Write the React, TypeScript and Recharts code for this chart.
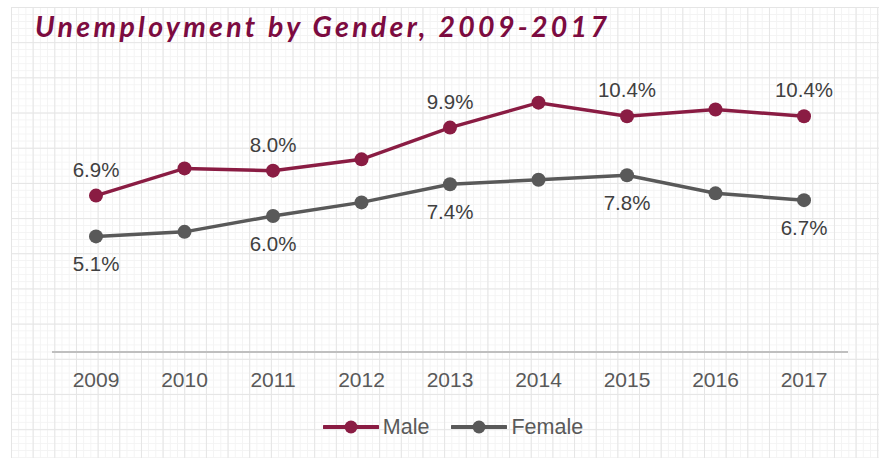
import React from 'react';
import { LineChart, Line, XAxis, YAxis, Legend } from 'recharts';

const years = ['2009', '2010', '2011', '2012', '2013', '2014', '2015', '2016', '2017'];
const maleRates = [6.9, 8.1, 8.0, 8.5, 9.9, 11.0, 10.4, 10.7, 10.4];
const femaleRates = [5.1, 5.3, 6.0, 6.6, 7.4, 7.6, 7.8, 7.0, 6.7];
const labeledYears = ['2009', '2011', '2013', '2015', '2017'];

const data = years.map((year, i) => ({ year, Male: maleRates[i], Female: femaleRates[i] }));

const MALE_COLOR = '#8a1c43';
const FEMALE_COLOR = '#595959';
const FONT = '"Liberation Sans", Arial, sans-serif';

const makeLabel = (dy: number) => (props: any) => {
  const { x, y, value, index } = props;
  if (!labeledYears.includes(years[index])) return null;
  return (
    <text x={x} y={y + dy} textAnchor="middle" fill="#404040" fontSize={20.5} fontFamily={FONT}>
      {Number(value).toFixed(1)}%
    </text>
  );
};

const legendItems = [
  { name: 'Male', color: MALE_COLOR },
  { name: 'Female', color: FEMALE_COLOR },
];

const renderLegend = () => (
  <div style={{ display: 'flex', justifyContent: 'center', alignItems: 'center', fontFamily: FONT }}>
    {legendItems.map((it, i) => (
      <div key={it.name} style={{ display: 'flex', alignItems: 'center', marginLeft: i === 0 ? 0 : 22 }}>
        <svg width={56} height={20} style={{ display: 'block' }}>
          <line x1={1} y1={10} x2={55} y2={10} stroke={it.color} strokeWidth={4} strokeLinecap="round" />
          <circle cx={28} cy={10} r={6.5} fill={it.color} />
        </svg>
        <span style={{ fontSize: 21.5, color: '#595959', marginLeft: 4, lineHeight: '20px' }}>{it.name}</span>
      </div>
    ))}
  </div>
);

const gridBg: React.CSSProperties = {
  position: 'absolute',
  left: 11,
  top: 6.7,
  width: 868,
  height: 452,
  backgroundImage: [
    'linear-gradient(to right, #e5e5e5 1px, transparent 1px)',
    'linear-gradient(to bottom, #e5e5e5 1px, transparent 1px)',
    'linear-gradient(to right, #f3f3f3 1px, transparent 1px)',
    'linear-gradient(to bottom, #f3f3f3 1px, transparent 1px)',
  ].join(','),
  backgroundSize: '21.67px 100%, 100% 35.2px, 7.22px 100%, 100% 7.04px',
};

export default function App() {
  return (
    <div style={{ position: 'absolute', left: 0, top: 0, width: 884, height: 458, background: '#fff', overflow: 'hidden' }}>
      <div style={gridBg} />
      <div
        style={{
          position: 'absolute',
          left: 35,
          top: 9,
          fontFamily: 'Lato, "Open Sans", sans-serif',
          fontStyle: 'italic',
          fontWeight: 700,
          fontSize: 28.5,
          letterSpacing: 3.3,
          color: '#7c0b40',
          whiteSpace: 'nowrap',
        }}
      >
        Unemployment by Gender, 2009-2017
      </div>
      <div style={{ position: 'absolute', left: 0, top: 0 }}>
        <LineChart width={884} height={458} data={data} margin={{ top: 80, right: 36, left: 52, bottom: 76 }}>
          <XAxis
            dataKey="year"
            padding={{ left: 44, right: 44 }}
            axisLine={{ stroke: '#bfbfbf', strokeWidth: 2 }}
            tickLine={false}
            tickSize={0}
            tickMargin={20}
            tick={{ fill: '#595959', fontSize: 21, fontFamily: FONT }}
            height={30}
          />
          <YAxis hide domain={[0, 12]} />
          <Legend
            verticalAlign="middle"
            align="center"
            layout="horizontal"
            content={renderLegend}
            wrapperStyle={{ position: 'absolute', left: 11, top: 417, width: 884 }}
          />
          <Line
            dataKey="Male"
            stroke={MALE_COLOR}
            strokeWidth={3.5}
            dot={{ r: 7, fill: MALE_COLOR, stroke: MALE_COLOR, strokeWidth: 0 }}
            activeDot={false}
            isAnimationActive={false}
            label={makeLabel(-19)}
          />
          <Line
            dataKey="Female"
            stroke={FEMALE_COLOR}
            strokeWidth={3.5}
            dot={{ r: 7, fill: FEMALE_COLOR, stroke: FEMALE_COLOR, strokeWidth: 0 }}
            activeDot={false}
            isAnimationActive={false}
            label={makeLabel(35)}
          />
        </LineChart>
      </div>
    </div>
  );
}
